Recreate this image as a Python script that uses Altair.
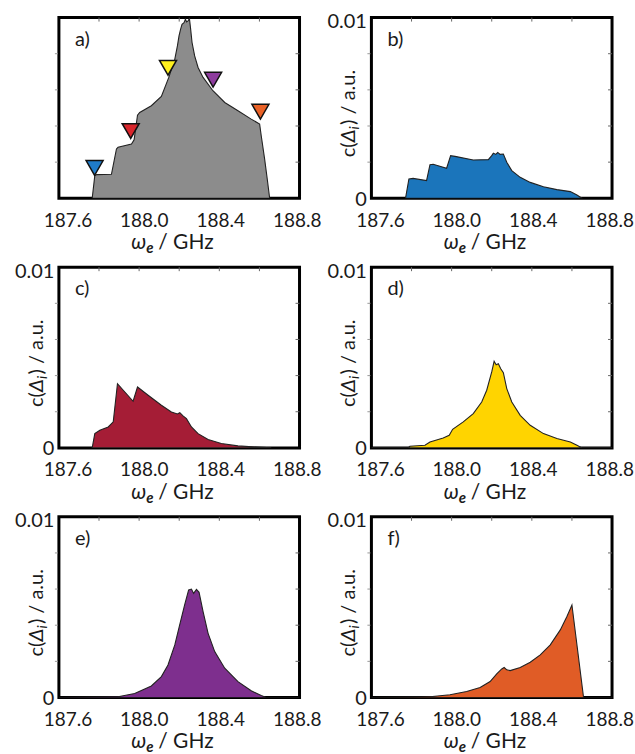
import altair as alt
import pandas as pd

FONT = "Lato"
X_DOMAIN = [187.6, 188.8]
Y_DOMAIN = [0, 0.01]
W, H = 241, 181

# ---- data ----
a_x = [187.766, 187.779, 187.788, 187.862, 187.887, 187.895, 187.962, 187.975, 187.992, 188.003,
       188.061, 188.111, 188.148, 188.178, 188.191, 188.199, 188.207, 188.214, 188.224, 188.231,
       188.237, 188.244, 188.251, 188.257, 188.264, 188.277, 188.294, 188.319, 188.368, 188.427,
       188.493, 188.559, 188.601, 188.609, 188.626, 188.639, 188.651]
a_y = [0, 0.00125, 0.00131, 0.00133, 0.00273, 0.00282, 0.00300, 0.00324, 0.00460, 0.00475,
       0.00512, 0.00564, 0.00669, 0.00770, 0.00843, 0.00899, 0.00936, 0.00963, 0.00972, 0.00991,
       0.00976, 0.00982, 0.00994, 0.00936, 0.00862, 0.00788, 0.00724, 0.00669, 0.00595, 0.00530,
       0.00484, 0.00438, 0.00411, 0.00346, 0.00217, 0.00107, 0]

b_x = [187.770, 187.787, 187.808, 187.875, 187.892, 187.908, 187.975, 187.995, 188.017, 188.108,
       188.183, 188.200, 188.208, 188.220, 188.230, 188.242, 188.258, 188.275, 188.300, 188.342,
       188.392, 188.458, 188.525, 188.592, 188.625, 188.650]
b_y = [0, 0.00107, 0.00110, 0.00098, 0.00186, 0.00188, 0.00166, 0.00236, 0.00232, 0.00212,
       0.00214, 0.00236, 0.00250, 0.00243, 0.00254, 0.00243, 0.00245, 0.00199, 0.00153, 0.00116,
       0.00088, 0.00064, 0.00048, 0.00037, 0.00018, 0]

c_x = [187.766, 187.779, 187.804, 187.846, 187.871, 187.892, 187.970, 187.992, 188.045, 188.111,
       188.161, 188.191, 188.203, 188.219, 188.236, 188.261, 188.294, 188.344, 188.410, 188.493,
       188.593, 188.659]
c_y = [0, 0.00079, 0.00098, 0.00116, 0.00144, 0.00355, 0.00258, 0.00337, 0.00291, 0.00236,
       0.00199, 0.00188, 0.00195, 0.00177, 0.00162, 0.00116, 0.00079, 0.00046, 0.00024, 0.00011,
       0.00004, 0]

d_x = [187.600, 187.783, 187.792, 187.867, 187.892, 187.958, 187.988, 188.005, 188.058, 188.108,
       188.150, 188.175, 188.200, 188.212, 188.222, 188.233, 188.245, 188.258, 188.275, 188.300,
       188.342, 188.392, 188.458, 188.525, 188.592, 188.625, 188.650, 188.800]
d_y = [0, 0, 0.00009, 0.00015, 0.00033, 0.00055, 0.00070, 0.00103, 0.00144, 0.00190,
       0.00254, 0.00319, 0.00420, 0.00479, 0.00460, 0.00466, 0.00438, 0.00416, 0.00328, 0.00254,
       0.00180, 0.00125, 0.00079, 0.00052, 0.00033, 0.00015, 0, 0]

e_x = [187.600, 187.895, 187.978, 188.061, 188.111, 188.144, 188.178, 188.202, 188.227, 188.247,
       188.261, 188.272, 188.286, 188.299, 188.319, 188.344, 188.377, 188.427, 188.493, 188.559,
       188.609, 188.634, 188.800]
e_y = [0, 0.00004, 0.00022, 0.00064, 0.00116, 0.00180, 0.00291, 0.00401, 0.00512, 0.00595,
       0.00600, 0.00576, 0.00598, 0.00582, 0.00475, 0.00355, 0.00254, 0.00162, 0.00088, 0.00037,
       0.00011, 0, 0]

f_x = [187.600, 187.808, 187.892, 187.992, 188.075, 188.142, 188.192, 188.225, 188.250, 188.262,
       188.275, 188.292, 188.342, 188.392, 188.442, 188.492, 188.542, 188.575, 188.600, 188.658,
       188.800]
f_y = [0, 0.00002, 0.00004, 0.00015, 0.00033, 0.00055, 0.00088, 0.00131, 0.00158, 0.00166,
       0.00153, 0.00149, 0.00166, 0.00195, 0.00236, 0.00291, 0.00374, 0.00448, 0.00512, 0,
       0]

marker_x = [187.778, 187.958, 188.144, 188.369, 188.605]
marker_y = [0.00168, 0.00372, 0.00722, 0.00656, 0.00479]
marker_keys = ["b", "c", "d", "e", "f"]
marker_colors = ["#1f7bc9", "#d9262c", "#fff01e", "#8e3c9e", "#ea6227"]

panel_labels = ["a)", "b)", "c)", "d)", "e)", "f)"]
fill_colors = ["#8c8c8c", "#1b75bb", "#a51d36", "#ffd400", "#7e2f8e", "#e05c26"]

x_label_values = [187.6, 188.0, 188.4, 188.8]
x_tick_values = [187.8, 188.0, 188.2, 188.4, 188.6]
y_label_values = [0, 0.009999]
y_tick_values = [0.002, 0.004, 0.006, 0.008]

one = pd.DataFrame({"k": [0]})


def text_piece(txt, x, y, size, style="normal", weight="normal", angle=0):
    return alt.Chart(one).mark_text(
        text=txt, align="left", baseline="alphabetic", font=FONT, fontSize=size,
        fontStyle=style, fontWeight=weight, color="#1a1a1a", angle=angle
    ).encode(x=alt.value(x), y=alt.value(y))


def panel(xs, ys, fill, label, show_y, markers=False):
    df = pd.DataFrame({"x": xs, "y": ys})
    xscale = alt.Scale(domain=X_DOMAIN, nice=False, zero=False)
    yscale = alt.Scale(domain=Y_DOMAIN, nice=False, zero=True)
    xaxis = alt.Axis(values=x_label_values, format=".1f", title=None, grid=False, ticks=False,
                     domain=False, labelFont=FONT, labelFontSize=19, labelColor="#1a1a1a",
                     labelPadding=13, labelFlush=False, labelOverlap=False,
                     labelOffset={"expr": "8.5 - (datum.value - 187.6) * 9.5"})
    if show_y:
        yaxis = alt.Axis(values=y_label_values, title=None, grid=False, domain=False, ticks=False,
                         labelOverlap=False, labelFlush=False,
                         labelExpr="datum.value < 0.001 ? '0' : '0.01'",
                         labelFont=FONT, labelFontSize=20, labelColor="#1a1a1a", labelPadding=5,
                         labelOffset={"expr": "datum.value > 0.005 ? 4 : 1"})
    else:
        yaxis = None
    area = alt.Chart(df).mark_area(
        fill=fill, fillOpacity=1, stroke="#222222", strokeWidth=1.1, interpolate="linear", clip=True
    ).encode(
        x=alt.X("x:Q", scale=xscale, axis=xaxis),
        y=alt.Y("y:Q", scale=yscale, axis=yaxis),
    )
    top_ticks = alt.Chart(pd.DataFrame({"x": x_tick_values})).mark_rule(
        color="#666666", strokeWidth=1
    ).encode(x="x:Q", y=alt.value(0), y2=alt.value(4))
    tdf = pd.DataFrame({"y": y_tick_values})
    right_ticks = alt.Chart(tdf).mark_rule(color="#666666", strokeWidth=1).encode(
        y="y:Q", x=alt.value(W - 4), x2=alt.value(W))
    left_ticks = alt.Chart(tdf).mark_rule(color="#999999", strokeWidth=1).encode(
        y="y:Q", x=alt.value(-4), x2=alt.value(-1))
    layers = [area, top_ticks, right_ticks, left_ticks]
    if markers:
        mdf = pd.DataFrame({"x": marker_x, "y": marker_y, "k": marker_keys})
        mk = alt.Chart(mdf).mark_point(
            shape="triangle-down", filled=True, size=290, stroke="#111111", strokeWidth=1.5,
            opacity=1, strokeOpacity=1
        ).encode(
            x="x:Q", y="y:Q",
            fill=alt.Fill("k:N", scale=alt.Scale(domain=marker_keys, range=marker_colors), legend=None),
        )
        layers.append(mk)
    # panel letter
    layers.append(text_piece(label, 16, 28, 20))
    # x title: omega_e / GHz
    layers.append(text_piece("ω", 72.5, H + 51, 21, style="italic"))
    layers.append(text_piece("e", 87.5, H + 55, 15, style="italic", weight="bold"))
    layers.append(text_piece("/ GHz", 99.5, H + 51, 21))
    if show_y:
        layers.append(text_piece("c(", -16, 140, 20, angle=270))
        layers.append(text_piece("Δ", -16, 125, 20, style="italic", angle=270))
        layers.append(text_piece("i", -12, 112, 14, style="italic", angle=270))
        layers.append(text_piece(") / a.u.", -16, 107.5, 20, angle=270))
    return alt.layer(*layers).properties(width=W, height=H)


pa = panel(a_x, a_y, fill_colors[0], panel_labels[0], False, markers=True)
pb = panel(b_x, b_y, fill_colors[1], panel_labels[1], True)
pc = panel(c_x, c_y, fill_colors[2], panel_labels[2], True)
pd_ = panel(d_x, d_y, fill_colors[3], panel_labels[3], True)
pe = panel(e_x, e_y, fill_colors[4], panel_labels[4], True)
pf = panel(f_x, f_y, fill_colors[5], panel_labels[5], True)

chart = alt.concat(
    pa, pb, pc, pd_, pe, pf, columns=2, spacing={"row": 69, "column": 72}, bounds="flush"
).properties(
    padding={"left": 12, "top": 9, "right": 0, "bottom": 0}
).configure(
    font=FONT
).configure_view(
    stroke="black", strokeWidth=3
)

chart.save("out.html", embed_options={"renderer": "svg", "actions": False})
